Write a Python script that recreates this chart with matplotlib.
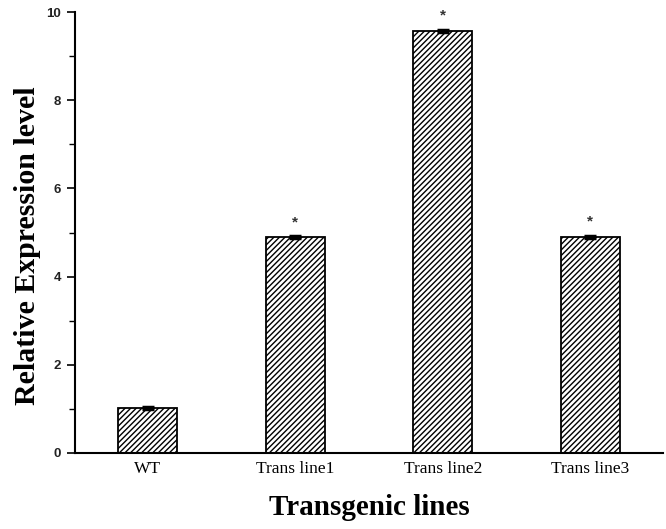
import matplotlib
matplotlib.use("Agg")
import matplotlib.pyplot as plt
from matplotlib.ticker import MultipleLocator

categories = ["WT", "Trans line1", "Trans line2", "Trans line3"]
values = [1.02, 4.90, 9.57, 4.90]
errors = [0.03, 0.02, 0.03, 0.03]
significant = [False, True, True, True]

plt.rcParams['hatch.linewidth'] = 1.0
fig = plt.figure(figsize=(6.66, 5.29), dpi=100)
ax = fig.add_axes([0.1126, 0.1437, 0.8829, 0.8333])

x = list(range(1, len(categories) + 1))
ax.bar(x, values, width=0.4, color="white", edgecolor="black", linewidth=1.3,
       hatch="//////", yerr=errors, capsize=4,
       error_kw=dict(ecolor="black", elinewidth=1.5, capthick=2.5))

for xi, v, e, s in zip(x, values, errors, significant):
    if s:
        ax.annotate("*", (xi, v + e), xytext=(0, 5), textcoords="offset points",
                    ha="center", va="bottom", fontsize=11, fontweight="bold",
                    color="#333333", family="Liberation Sans")

ax.set_xlim(0.507, 4.493)
ax.set_ylim(0, 10)
ax.set_xticks(x)
ax.set_xticklabels(categories, family="Liberation Serif", fontsize=12.5)
ax.yaxis.set_major_locator(MultipleLocator(2))
ax.yaxis.set_minor_locator(MultipleLocator(1))
for lbl in ax.get_yticklabels():
    lbl.set_family("Liberation Sans")
    lbl.set_fontsize(9.5)
    lbl.set_fontweight("bold")
    lbl.set_color("#222222")
ax.tick_params(axis="y", which="major", length=6, width=1.2, direction="out", pad=4)
ax.tick_params(axis="y", which="minor", length=4, width=1.0, direction="out")
ax.tick_params(axis="x", length=0, pad=6)

for side in ["top", "right"]:
    ax.spines[side].set_visible(False)
for side in ["left", "bottom"]:
    ax.spines[side].set_linewidth(1.5)

ax.set_ylabel("Relative Expression level", family="Liberation Serif",
              fontweight="bold", fontsize=21.5, labelpad=4)
ax.yaxis.label.set_y(0.47)
ax.set_xlabel("Transgenic lines", family="Liberation Serif",
              fontweight="bold", fontsize=21, labelpad=12)

fig.savefig("out.png", dpi=100)
